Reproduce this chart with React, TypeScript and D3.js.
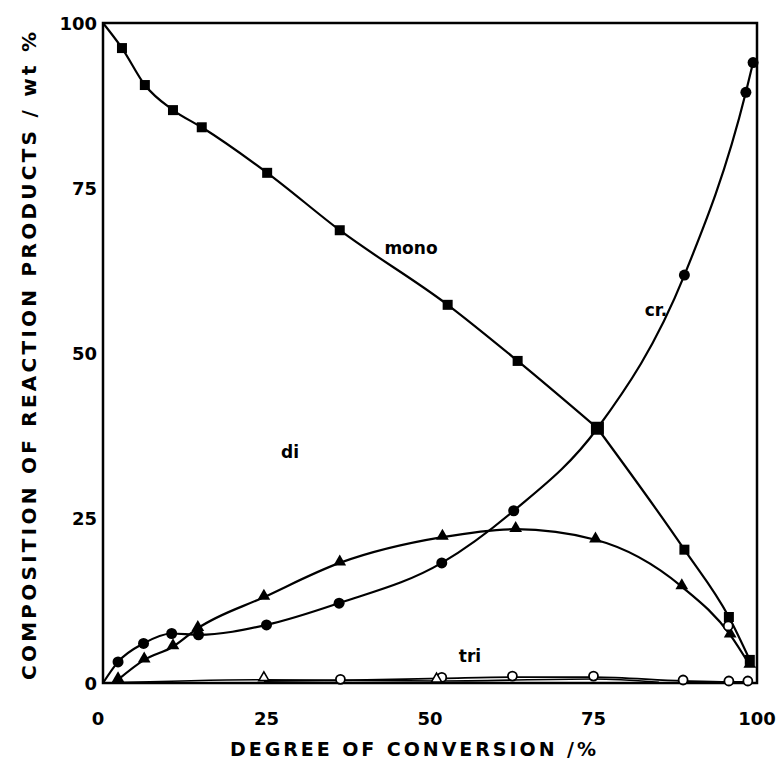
import * as d3 from 'd3';

// [degree of conversion %, wt %]
const monoPts: [number, number][] = [
  [2.9, 96.2], [6.4, 90.6], [10.7, 86.8], [15.1, 84.2], [25.1, 77.3],
  [36.2, 68.6], [52.7, 57.3], [63.4, 48.8], [75.6, 38.6], [88.9, 20.2],
  [95.7, 10.0], [98.9, 3.5],
];
const crPts: [number, number][] = [
  [2.3, 3.2], [6.2, 6.0], [10.5, 7.5], [14.6, 7.3], [25.0, 8.8],
  [36.1, 12.1], [51.8, 18.2], [62.8, 26.1], [88.9, 61.8], [98.3, 89.5],
  [99.4, 94.0],
];
const crCurve: [number, number][] = [
  [0, 0], ...crPts.slice(0, 8), [75.6, 38.6], ...crPts.slice(8),
];
const diPts: [number, number][] = [
  [2.3, 0.5], [6.3, 3.5], [10.7, 5.5], [14.5, 8.3], [24.6, 13.0],
  [36.2, 18.2], [51.9, 22.1], [63.1, 23.3], [75.3, 21.7], [88.5, 14.6],
  [95.9, 7.3], [98.9, 2.7],
];
const triPts: [number, number][] = [
  [36.3, 0.4], [51.8, 0.7], [62.6, 0.9], [75.0, 0.9], [88.7, 0.3],
  [95.7, 0.15], [98.6, 0.15],
];
const triExtra: [number, number][] = [[95.6, 8.5]];
const tetraPts: [number, number][] = [[24.6, 0.5], [51.0, 0.3]];

const xTicks = [0, 25, 50, 75, 100];
const yTicks = [0, 25, 50, 75, 100];

const W = 780;
const H = 761;
const font = '"DejaVu Sans", sans-serif';

export default function App() {
  const x = d3.scaleLinear().domain([0, 100]).range([103, 757]);
  const y = d3.scaleLinear().domain([0, 100]).range([683, 23]);

  const line = d3.line<[number, number]>()
    .x((d) => x(d[0]))
    .y((d) => y(d[1]))
    .curve(d3.curveMonotoneX);

  const tri = d3.symbol().type(d3.symbolTriangle).size(70)();
  const smallTri = d3.symbol().type(d3.symbolTriangle).size(45)();

  // mono has a corner at the crossing point
  const monoA: [number, number][] = [[0, 100], ...monoPts.slice(0, 9)];
  const monoB: [number, number][] = monoPts.slice(8);

  return (
    <svg width={W} height={H} style={{ position: 'absolute', left: 0, top: 0, background: '#fff' }}>
      {/* frame */}
      <rect x={x(0)} y={y(100)} width={x(100) - x(0)} height={y(0) - y(100)}
        fill="none" stroke="#000" strokeWidth={2.5} />

      {/* curves */}
      <g fill="none" stroke="#000" strokeWidth={2.2}>
        <path d={line(monoA) || ''} />
        <path d={line(monoB) || ''} />
        <path d={line(crCurve) || ''} />
        <path d={line(diPts) || ''} />
        <path d={line([[24.6, 0.3], ...triPts]) || ''} strokeWidth={1.8} />
        <path d={line([[0, 0], ...tetraPts, [75, 0.6], [85, 0.1]]) || ''} strokeWidth={1.6} />
      </g>

      {/* markers */}
      {monoPts.map((d, i) => {
        const s = d[0] === 75.6 ? 13 : 10;
        return <rect key={'m' + i} x={x(d[0]) - s / 2} y={y(d[1]) - s / 2} width={s} height={s} fill="#000" />;
      })}
      {crPts.map((d, i) => (
        <circle key={'c' + i} cx={x(d[0])} cy={y(d[1])} r={5.5} fill="#000" />
      ))}
      {diPts.map((d, i) => (
        <path key={'d' + i} d={tri || ''} transform={`translate(${x(d[0])},${y(d[1]) - 1})`} fill="#000" />
      ))}
      {[...triPts, ...triExtra].map((d, i) => (
        <circle key={'t' + i} cx={x(d[0])} cy={y(d[1]) - 1} r={4.5} fill="#fff" stroke="#000" strokeWidth={1.8} />
      ))}
      {tetraPts.map((d, i) => (
        <path key={'e' + i} d={smallTri || ''} transform={`translate(${x(d[0])},${y(d[1]) - 2})`}
          fill="#fff" stroke="#000" strokeWidth={1.6} />
      ))}

      {/* ticks */}
      <g fontFamily={font} fontWeight="bold" fontSize={18} fill="#000">
        {xTicks.map((t) => (
          <text key={'x' + t} x={x(t) - (t === 0 ? 5 : 0)} y={725} textAnchor="middle">{t}</text>
        ))}
        {yTicks.map((t) => (
          <text key={'y' + t} x={x(0) - 6} y={y(t) + 7} textAnchor="end">{t}</text>
        ))}
      </g>

      {/* axis titles */}
      <g fontFamily={font} fontWeight="bold" fill="#000">
        <text x={230} y={756} fontSize={19} textLength={366} lengthAdjust="spacing">DEGREE OF CONVERSION /%</text>
        <text transform="translate(36,680) rotate(-90)" fontSize={20} textLength={648} lengthAdjust="spacing">
          COMPOSITION OF REACTION PRODUCTS / wt %
        </text>
      </g>

      {/* series labels */}
      <g fontFamily={font} fontWeight="bold" fontSize={17} fill="#000" textAnchor="middle">
        <text x={411} y={254}>mono</text>
        <text x={656} y={316}>cr.</text>
        <text x={290} y={458}>di</text>
        <text x={470} y={662}>tri</text>
      </g>
    </svg>
  );
}
